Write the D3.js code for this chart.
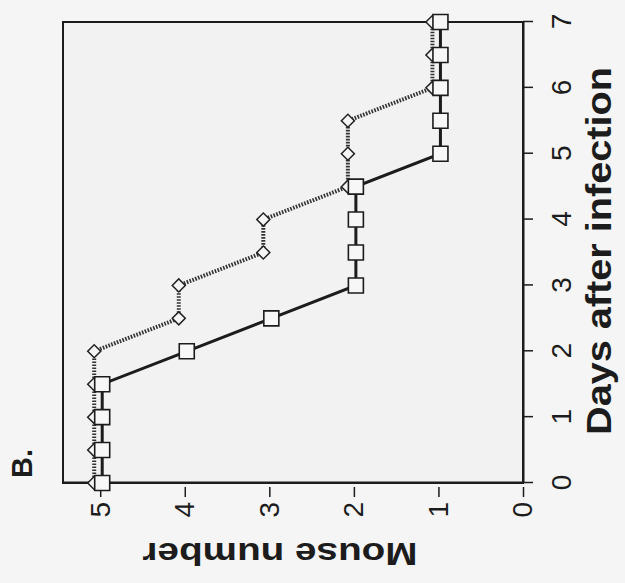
<!DOCTYPE html>
<html>
<head>
<meta charset="utf-8">
<script src="https://cdn.jsdelivr.net/npm/d3@7"></script>
<style>
  html, body { margin: 0; padding: 0; background: #f5f5f5; }
  svg { display: block; font-family: "Liberation Sans", Arial, Helvetica, sans-serif; }
</style>
</head>
<body>
<svg id="chart" width="625" height="583"></svg>
<script>
// data (panel B)
const days = [0, 0.5, 1, 1.5, 2, 2.5, 3, 3.5, 4, 4.5, 5, 5.5, 6, 6.5, 7];
const solidMice = [5, 5, 5, 5, 4, 3, 2, 2, 2, 2, 1, 1, 1, 1, 1];
const dottedMice = [5, 5, 5, 5, 5, 4, 4, 3, 3, 2, 2, 2, 1, 1, 1];
const dayTicks = [0, 1, 2, 3, 4, 5, 6, 7];
const mouseTicks = [0, 1, 2, 3, 4, 5];

const W = 461, H = 460;
const svg = d3.select('#chart');

// the whole panel is printed turned a quarter turn, so draw it upright and rotate
const g = svg.append('g')
    .attr('transform', 'translate(63,483) rotate(-90)');

const x = d3.scaleLinear().domain([0, 7]).range([0, W]);
const y = d3.scaleLinear().domain([0, 5.44]).range([H, 0]);

g.append('rect')
    .attr('width', W)
    .attr('height', H)
    .attr('fill', '#f2f2f2')
    .attr('stroke', '#1c1c1c')
    .attr('stroke-width', 2);

// days axis
const xAxis = g.append('g')
    .attr('transform', `translate(0,${H})`)
    .call(d3.axisBottom(x).tickValues(dayTicks).tickFormat(d3.format('d'))
        .tickSize(10).tickSizeOuter(0).tickPadding(18));
xAxis.select('.domain').attr('stroke', '#1c1c1c').attr('stroke-width', 2);
xAxis.selectAll('.tick line').attr('stroke', '#1c1c1c').attr('stroke-width', 1.5);
xAxis.selectAll('.tick text')
    .attr('font-size', 28)
    .attr('fill', '#1c1c1c');

// mouse axis
const yAxis = g.append('g')
    .call(d3.axisLeft(y).tickValues(mouseTicks).tickFormat(d3.format('d'))
        .tickSize(14).tickSizeOuter(0).tickPadding(5));
yAxis.select('.domain').attr('stroke', '#1c1c1c').attr('stroke-width', 2);
yAxis.selectAll('.tick line').attr('x1', -4).attr('stroke', '#1c1c1c').attr('stroke-width', 1.5);
yAxis.selectAll('.tick text')
    .attr('font-size', 28)
    .attr('fill', '#1c1c1c');

// axis titles
g.append('text')
    .attr('x', 232)
    .attr('y', H + 88)
    .attr('text-anchor', 'middle')
    .attr('font-size', 35)
    .attr('font-weight', 'bold')
    .attr('fill', '#1c1c1c')
    .attr('textLength', 368)
    .attr('lengthAdjust', 'spacingAndGlyphs')
    .text('Days after infection');

g.append('text')
    .attr('transform', 'translate(-60,217) rotate(-90)')
    .attr('text-anchor', 'middle')
    .attr('font-size', 31)
    .attr('font-weight', 'bold')
    .attr('fill', '#1c1c1c')
    .attr('textLength', 275)
    .attr('lengthAdjust', 'spacingAndGlyphs')
    .text('Mouse number');

g.append('text')
    .attr('x', 5)
    .attr('y', -31)
    .attr('font-size', 29)
    .attr('font-weight', 'bold')
    .attr('fill', '#1c1c1c')
    .text('B.');

const line = d3.line()
    .x(d => x(d[0]))
    .y(d => y(d[1]));

// dotted series with diamonds (printed slightly off the solid one)
const dotted = g.append('g').attr('transform', 'translate(0,-6)');
const dottedPts = days.map((d, i) => [d, dottedMice[i]]);
dotted.append('path')
    .datum(dottedPts)
    .attr('d', line)
    .attr('fill', 'none')
    .attr('stroke', '#333')
    .attr('stroke-width', 4)
    .attr('stroke-dasharray', '1.6,1.4');
dotted.selectAll('path.mark')
    .data(dottedPts)
    .join('path')
    .attr('class', 'mark')
    .attr('d', d3.symbol(d3.symbolSquare, 85))
    .attr('transform', d => `translate(${x(d[0])},${y(d[1])}) rotate(45)`)
    .attr('fill', '#f5f5f5')
    .attr('stroke', '#222')
    .attr('stroke-width', 1.5);

// solid series with squares
const solid = g.append('g').attr('transform', 'translate(0,2)');
const solidPts = days.map((d, i) => [d, solidMice[i]]);
solid.append('path')
    .datum(solidPts)
    .attr('d', line)
    .attr('fill', 'none')
    .attr('stroke', '#1c1c1c')
    .attr('stroke-width', 3);
solid.selectAll('path.mark')
    .data(solidPts)
    .join('path')
    .attr('class', 'mark')
    .attr('d', d3.symbol(d3.symbolSquare, 225))
    .attr('transform', d => `translate(${x(d[0])},${y(d[1])})`)
    .attr('fill', '#f7f7f7')
    .attr('stroke', '#1c1c1c')
    .attr('stroke-width', 1.6);
</script>
</body>
</html>
